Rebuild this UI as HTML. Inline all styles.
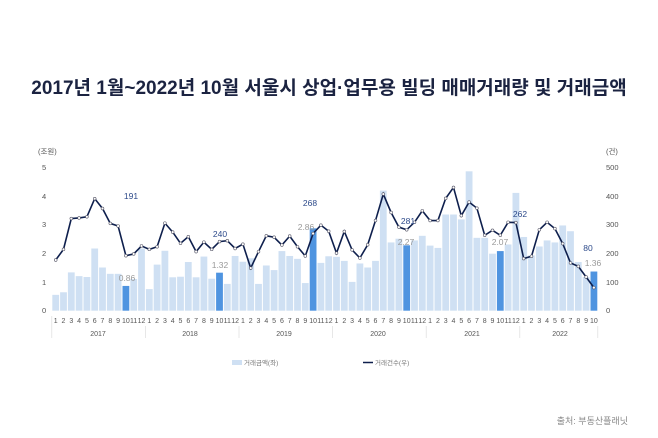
<!DOCTYPE html><html><head><meta charset="utf-8"><style>body{margin:0;background:#fff}svg{display:block;font-family:"Liberation Sans","Noto Sans CJK KR",sans-serif}</style></head><body>
<svg id="s" width="658" height="438" viewBox="0 0 658 438" xmlns="http://www.w3.org/2000/svg">
<text x="329" y="94" text-anchor="middle" font-size="19" font-weight="bold" fill="#1b2341">2017년 1월~2022년 10월 서울시 상업·업무용 빌딩 매매거래량 및 거래금액</text>
<g font-size="7.5" fill="#555">
<text x="38" y="154">(조원)</text><text x="606" y="154">(건)</text>
<text x="42" y="170">5</text><text x="42" y="199">4</text><text x="42" y="227">3</text><text x="42" y="256">2</text><text x="42" y="285">1</text><text x="42" y="313">0</text>
<text x="606" y="170">500</text><text x="606" y="199">400</text><text x="606" y="227">300</text><text x="606" y="256">200</text><text x="606" y="285">100</text><text x="606" y="313">0</text>
</g>
<g id="bars"></g><g id="line"></g>
<g font-size="7" fill="#555" text-anchor="middle" id="ml">
<text x="55.7" y="323">1</text><text x="63.5" y="323">2</text><text x="71.3" y="323">3</text><text x="79.1" y="323">4</text><text x="86.9" y="323">5</text><text x="94.7" y="323">6</text><text x="102.5" y="323">7</text><text x="110.3" y="323">8</text><text x="118.1" y="323">9</text><text x="125.9" y="323">10</text><text x="133.7" y="323">11</text><text x="141.5" y="323">12</text>
<text x="149.3" y="323">1</text><text x="157.1" y="323">2</text><text x="164.9" y="323">3</text><text x="172.7" y="323">4</text><text x="180.5" y="323">5</text><text x="188.3" y="323">6</text><text x="196.1" y="323">7</text><text x="203.9" y="323">8</text><text x="211.7" y="323">9</text><text x="219.5" y="323">10</text><text x="227.3" y="323">11</text><text x="235.1" y="323">12</text>
<text x="242.9" y="323">1</text><text x="250.7" y="323">2</text><text x="258.5" y="323">3</text><text x="266.3" y="323">4</text><text x="274.1" y="323">5</text><text x="281.9" y="323">6</text><text x="289.7" y="323">7</text><text x="297.5" y="323">8</text><text x="305.3" y="323">9</text><text x="313.1" y="323">10</text><text x="320.9" y="323">11</text><text x="328.7" y="323">12</text>
<text x="336.5" y="323">1</text><text x="344.3" y="323">2</text><text x="352.1" y="323">3</text><text x="359.9" y="323">4</text><text x="367.7" y="323">5</text><text x="375.5" y="323">6</text><text x="383.3" y="323">7</text><text x="391.1" y="323">8</text><text x="398.9" y="323">9</text><text x="406.7" y="323">10</text><text x="414.5" y="323">11</text><text x="422.3" y="323">12</text>
<text x="430.1" y="323">1</text><text x="437.9" y="323">2</text><text x="445.7" y="323">3</text><text x="453.5" y="323">4</text><text x="461.3" y="323">5</text><text x="469.1" y="323">6</text><text x="476.9" y="323">7</text><text x="484.7" y="323">8</text><text x="492.5" y="323">9</text><text x="500.3" y="323">10</text><text x="508.1" y="323">11</text><text x="515.9" y="323">12</text>
<text x="523.7" y="323">1</text><text x="531.5" y="323">2</text><text x="539.3" y="323">3</text><text x="547.1" y="323">4</text><text x="554.9" y="323">5</text><text x="562.7" y="323">6</text><text x="570.5" y="323">7</text><text x="578.3" y="323">8</text><text x="586.1" y="323">9</text><text x="593.9" y="323">10</text>
<text x="98" y="336">2017</text><text x="190" y="336">2018</text><text x="284" y="336">2019</text><text x="378" y="336">2020</text><text x="472" y="336">2021</text><text x="560" y="336">2022</text>
</g>
<g stroke="#ddd" stroke-width="0.7"><line x1="51.8" y1="316" x2="51.8" y2="338"/><line x1="145.4" y1="326" x2="145.4" y2="338"/><line x1="239" y1="326" x2="239" y2="338"/><line x1="332.6" y1="326" x2="332.6" y2="338"/><line x1="426.2" y1="326" x2="426.2" y2="338"/><line x1="519.8" y1="326" x2="519.8" y2="338"/><line x1="597.8" y1="326" x2="597.8" y2="338"/></g>
<g font-size="8.5" text-anchor="middle">
<text x="127" y="281" fill="#999">0.86</text><text x="131" y="199" fill="#2d4a8a">191</text>
<text x="220" y="268" fill="#999">1.32</text><text x="220" y="237" fill="#2d4a8a">240</text>
<text x="306" y="230" fill="#999">2.86</text><text x="310" y="206" fill="#2d4a8a">268</text>
<text x="406" y="245" fill="#999">2.27</text><text x="408" y="224" fill="#2d4a8a">281</text>
<text x="500" y="245" fill="#999">2.07</text><text x="520" y="217" fill="#2d4a8a">262</text>
<text x="593" y="266" fill="#999">1.36</text><text x="588" y="251" fill="#2d4a8a">80</text>
</g>
<g font-size="6.5" fill="#777"><rect x="232" y="360" width="10" height="5" fill="#cfe0f3"/><text x="244" y="365">거래금액(좌)</text>
<line x1="363" y1="362.5" x2="373" y2="362.5" stroke="#0e1f4d" stroke-width="1.5"/><text x="375" y="365">거래건수(우)</text></g>
<text x="628" y="424" text-anchor="end" font-size="9" fill="#888">출처: 부동산플래닛</text>
</svg>
<script>
var b=[0.55,0.64,1.33,1.2,1.17,2.16,1.5,1.28,1.28,0.86,1.1,2.16, 0.75,1.6,2.08,1.16,1.18,1.69,1.16,1.88,1.11,1.32,0.93,1.9, 1.7,1.82,0.93,1.57,1.41,2.07,1.9,1.8,0.96,2.86,1.66,1.89, 1.87,1.73,1.0,1.64,1.5,1.73,4.17,2.37,2.5,2.27,2.44,2.6, 2.26,2.18,3.34,3.34,3.17,4.84,2.53,2.53,1.98,2.07,2.3,4.09, 2.56,1.92,2.23,2.44,2.37,2.96,2.76,1.69,1.17,1.36];
var l=[1.76,2.13,3.2,3.22,3.26,3.89,3.55,3.03,2.94,1.91,1.97,2.25, 2.13,2.22,3.04,2.73,2.34,2.57,2.05,2.38,2.13,2.4,2.43,2.16, 2.31,1.48,2.05,2.6,2.55,2.28,2.59,2.22,1.9,2.68,2.97,2.76, 2.0,2.75,2.11,1.83,2.29,3.13,4.05,3.41,2.9,2.81,3.07,3.47, 3.13,3.13,3.9,4.28,3.3,3.77,3.56,2.62,2.79,2.62,3.07,3.06, 1.81,1.89,2.81,3.07,2.85,2.33,1.66,1.54,1.17,0.8];
var hi=[9,21,33,45,57,69],y0=310.7,u=28.8,s='',p='',d='';
b.forEach(function(v,i){var x=55.7+7.8*i;var c=hi.indexOf(i)>=0?'#4f94e0':'#cfe0f3';s+='<rect x="'+(x-3.4)+'" y="'+(y0-v*u)+'" width="6.8" height="'+(v*u)+'" fill="'+c+'"/>';});
l.forEach(function(v,i){var x=55.7+7.8*i,y=y0-v*u;p+=(i?'L':'M')+x+' '+y;d+='<circle cx="'+x+'" cy="'+y+'" r="1.4" fill="#fff" stroke="#556" stroke-width="0.6"/>';});
document.getElementById('bars').innerHTML=s;
document.getElementById('line').innerHTML='<path d="'+p+'" fill="none" stroke="#0e1f4d" stroke-width="1.6"/>'+d;
</script>
</body></html>
